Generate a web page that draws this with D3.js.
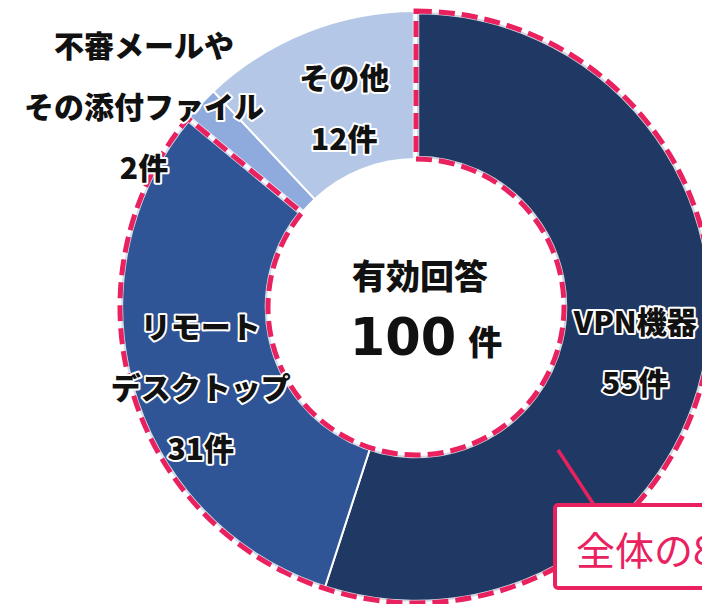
<!DOCTYPE html>
<html><head><meta charset="utf-8">
<script src="https://cdn.jsdelivr.net/npm/d3@7"></script>
<style>
html,body{margin:0;padding:0;background:#fff;overflow:hidden;}
svg{display:block;}
</style></head>
<body>
<svg id="chart" width="702" height="604"></svg>
<script>
// ---- data ----
const categories = ["VPN機器", "リモートデスクトップ", "不審メールやその添付ファイル", "その他"];
const values = [55, 31, 2, 12];
const labelLines = [["VPN機器", "55件"], ["リモート", "デスクトップ", "31件"], ["不審メールや", "その添付ファイル", "2件"], ["その他", "12件"]];
const colors = ["#203864", "#2f5597", "#8faadc", "#b4c7e7"];
const totalLabel = "有効回答";
const totalValue = 100;
const calloutText = "全体の86%";
const highlighted = [0, 1]; // slices enclosed by the dashed outline

// ---- layout ----
const cx = 416, cy = 307, rOuter = 296, rInner = 148;
const accent = "#e9215f";
const font = "'Noto Sans CJK JP', 'Noto Sans', sans-serif";

const svg = d3.select("#chart");
const g = svg.append("g").attr("transform", `translate(${cx},${cy})`);

const pie = d3.pie().sort(null).value(d => d)(values);
const arc = d3.arc().innerRadius(rInner).outerRadius(rOuter);

g.selectAll("path.slice").data(pie).join("path")
  .attr("class", "slice")
  .attr("d", arc)
  .attr("fill", (d, i) => colors[i])
  .attr("stroke", "#fff")
  .attr("stroke-width", 2);

// dashed outline around highlighted slices
const hStart = pie[highlighted[0]].startAngle;
const hEnd = pie[highlighted[highlighted.length - 1]].endAngle;
const outline = d3.arc().innerRadius(rInner).outerRadius(rOuter).startAngle(hStart).endAngle(hEnd)();
g.append("path").attr("d", outline).attr("fill", "none")
  .attr("stroke", "#fff").attr("stroke-width", 6.5).attr("stroke-opacity", 0.8)
  .attr("stroke-linejoin", "miter");
g.append("path").attr("d", outline).attr("fill", "none")
  .attr("stroke", accent).attr("stroke-width", 5)
  .attr("stroke-dasharray", "16,7").attr("stroke-linejoin", "miter");

// slice labels
const labelArc = d3.arc().innerRadius((rInner + rOuter) / 2).outerRadius((rInner + rOuter) / 2);
const labelOffsets = [[0, 9], [-2, 17], [0, 0], [10, 6]];
const lineGap = 61;
pie.forEach((d, i) => {
  let [x, y] = labelArc.centroid(d);
  if (i === 2) { x = 144 - cx; y = 105 - cy; }
  x += labelOffsets[i][0]; y += labelOffsets[i][1];
  const lines = labelLines[i];
  const n = lines.length;
  lines.forEach((t, k) => {
    g.append("text")
      .attr("x", x).attr("y", y + (k - (n - 1) / 2) * lineGap)
      .attr("text-anchor", "middle").attr("dominant-baseline", "central")
      .attr("font-family", font).attr("font-weight", 900).attr("font-size", 30)
      .attr("fill", "#111").attr("stroke", "#fff").attr("stroke-width", 4)
      .attr("stroke-linejoin", "round").attr("paint-order", "stroke")
      .text(t);
  });
});

// center text
g.append("text").attr("x", 4).attr("y", -33)
  .attr("text-anchor", "middle").attr("dominant-baseline", "central")
  .attr("font-family", font).attr("font-weight", 900).attr("font-size", 34)
  .attr("fill", "#111").text(totalLabel);
const ct = g.append("text").attr("x", 10).attr("y", 48).attr("text-anchor", "middle")
  .attr("fill", "#111");
ct.append("tspan").attr("font-family", "'DejaVu Sans', sans-serif").attr("font-weight", 700)
  .attr("font-size", 51).text(totalValue);
ct.append("tspan").attr("font-family", font).attr("font-weight", 900)
  .attr("font-size", 34).attr("dx", 12).text("件");

// callout
g.append("line")
  .attr("x1", 558 - cx).attr("y1", 450 - cy)
  .attr("x2", 594 - cx).attr("y2", 505 - cy)
  .attr("stroke", accent).attr("stroke-width", 3.5);
svg.append("rect").attr("x", 555).attr("y", 505).attr("width", 220).attr("height", 83)
  .attr("rx", 3).attr("fill", "#fff").attr("stroke", accent).attr("stroke-width", 4);
svg.append("text").attr("x", 576).attr("y", 548)
  .attr("dominant-baseline", "central")
  .attr("font-family", font).attr("font-weight", 400).attr("font-size", 39)
  .attr("fill", accent).text(calloutText);
</script>
</body></html>
